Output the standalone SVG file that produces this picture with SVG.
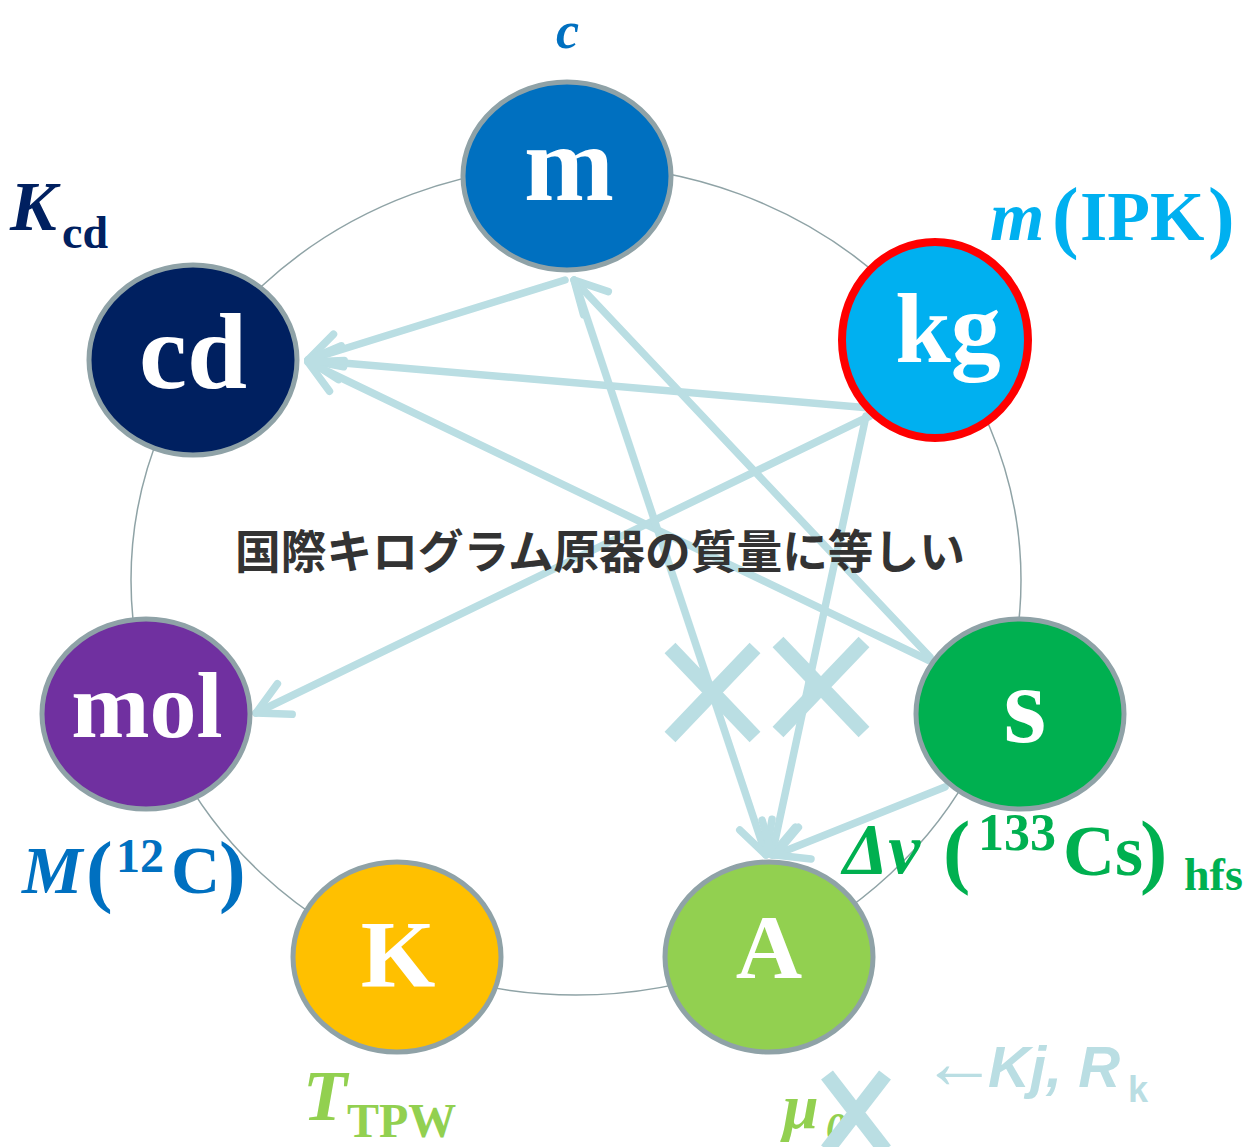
<svg xmlns="http://www.w3.org/2000/svg" width="1254" height="1147" viewBox="0 0 1254 1147">
<style>
.node{stroke:#8FA2A7;stroke-width:5}
.nt{font-family:"Liberation Serif","DejaVu Serif",serif;font-weight:bold;fill:#fff;text-anchor:middle}
.lab{font-family:"Liberation Serif","DejaVu Serif",serif;font-weight:bold}
.it{font-style:italic}
.con{fill:none;stroke:#BADEE3;stroke-width:7.5;stroke-linecap:round}
.x{fill:none;stroke:#BADEE3;stroke-width:15}
</style>
<defs>
<marker id="ah" markerUnits="userSpaceOnUse" markerWidth="60" markerHeight="60" viewBox="-45 -30 60 60" refX="0" refY="0" orient="auto">
<path d="M-32,-17 L0,0 L-32,17" fill="none" stroke="#BADEE3" stroke-width="7.5" stroke-linecap="round" stroke-linejoin="round"/>
</marker>
</defs>
<rect width="1254" height="1147" fill="#fff"/>
<ellipse id="ring" cx="576" cy="580" rx="445" ry="415" fill="none" stroke="#8FA3A6" stroke-width="1.5"/>
<g id="connectors">
<path class="con" d="M565,280 L308,360" marker-end="url(#ah)"/>
<path class="con" d="M870,408 L308,360" marker-end="url(#ah)"/>
<path class="con" d="M928,660 L308,362" marker-end="url(#ah)"/>
<path class="con" d="M870,416 L256,713" marker-end="url(#ah)"/>
<path class="con" d="M930,657 L574,280" marker-end="url(#ah)"/>
<path class="con" d="M575,282 L766,855" marker-end="url(#ah)"/>
<path class="con" d="M866,416 L772,855" marker-end="url(#ah)"/>
<path class="con" d="M945,787 L775,855" marker-end="url(#ah)"/>
<path class="x" d="M670,648 L755,737 M755,648 L670,737"/>
<path class="x" d="M778,642 L864,732 M864,642 L778,732"/>
</g>
<g id="node-m">
<ellipse class="node" cx="567" cy="176" rx="104" ry="94" fill="#0070C0"/>
<text class="nt" x="569" y="200" font-size="108">m</text>
</g>
<g id="node-cd">
<ellipse class="node" cx="193" cy="360" rx="104" ry="95" fill="#002060"/>
<text class="nt" x="193" y="388" font-size="108">cd</text>
</g>
<g id="node-kg">
<ellipse cx="935" cy="340" rx="93" ry="98" fill="#00B0F0" stroke="#FF0000" stroke-width="8"/>
<text class="nt" x="948" y="362" font-size="100">kg</text>
</g>
<g id="node-mol">
<ellipse class="node" cx="146" cy="714" rx="104" ry="95" fill="#7030A0"/>
<text class="nt" x="147" y="737" font-size="94">mol</text>
</g>
<g id="node-s">
<ellipse class="node" cx="1020" cy="714" rx="104" ry="95" fill="#00B050"/>
<text class="nt" x="1025" y="742" font-size="110">s</text>
</g>
<g id="node-K">
<ellipse class="node" cx="397" cy="957" rx="104" ry="95" fill="#FFC000"/>
<text class="nt" x="398" y="987" font-size="96">K</text>
</g>
<g id="node-A">
<ellipse class="node" cx="769" cy="957" rx="104" ry="95" fill="#92D050"/>
<text class="nt" x="769" y="978" font-size="92">A</text>
</g>
<text x="235" y="568" font-family="'Noto Sans CJK JP',sans-serif" font-weight="bold" font-size="46" fill="#333333" textLength="730" lengthAdjust="spacingAndGlyphs">国際キログラム原器の質量に等しい</text>
<g id="labels">
<text class="lab it" x="556" y="48" font-size="52" fill="#0070C0">c</text>
<text class="lab" fill="#002060"><tspan class="it" x="10" y="230" font-size="70">K</tspan><tspan x="62" y="248" font-size="46">cd</tspan></text>
<text class="lab" fill="#00B0F0"><tspan class="it" x="990" y="240" font-size="70">m</tspan><tspan x="1052" y="243" font-size="80">(</tspan><tspan x="1080" y="240" font-size="70">IPK</tspan><tspan x="1208" y="243" font-size="80">)</tspan></text>
<text class="lab" fill="#00B050"><tspan class="it" x="843" y="873" font-size="72">Δν</tspan><tspan x="943" y="878" font-size="82">(</tspan><tspan x="978" y="850" font-size="52">133</tspan><tspan x="1063" y="875" font-size="72">Cs</tspan><tspan x="1140" y="878" font-size="82">)</tspan><tspan x="1184" y="890" font-size="46">hfs</tspan></text>
<text class="lab" fill="#0070C0"><tspan class="it" x="22" y="893" font-size="68">M</tspan><tspan x="86" y="897" font-size="80">(</tspan><tspan x="116" y="872" font-size="48">12</tspan><tspan x="171" y="893" font-size="68">C</tspan><tspan x="219" y="897" font-size="80">)</tspan></text>
<text class="lab" fill="#92D050"><tspan class="it" x="303" y="1120" font-size="72">T</tspan><tspan x="347" y="1137" font-size="48">TPW</tspan></text>
<text class="lab" fill="#92D050"><tspan class="it" x="783" y="1128" font-size="64">μ</tspan><tspan class="it" x="826" y="1140" font-size="40">0</tspan></text>
<text font-family="'Liberation Sans','DejaVu Sans',sans-serif" fill="#BADEE3"><tspan x="921" y="1088" font-size="76">←</tspan><tspan x="988" y="1087" font-size="58" font-weight="bold" font-style="italic">Kj, R</tspan><tspan x="1128" y="1102" font-size="36" font-weight="bold">k</tspan></text>
<path class="x" d="M827,1075 L885,1150 M885,1075 L827,1150"/>
</g>
</svg>
